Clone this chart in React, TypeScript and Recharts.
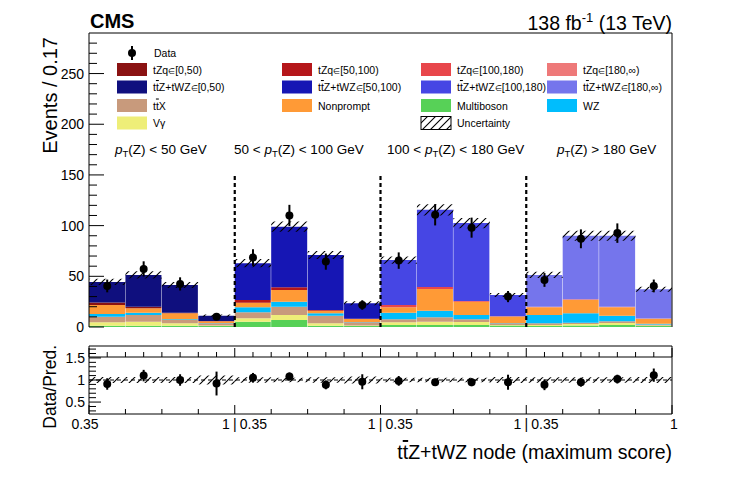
import React from "react";
import {
  ComposedChart,
  Bar,
  XAxis,
  YAxis,
  Scatter,
  ErrorBar,
  ReferenceArea,
  ReferenceLine,
} from "recharts";

// ---------------- data ----------------
const bins = ["1", "2", "3", "4", "5", "6", "7", "8", "9", "10", "11", "12", "13", "14", "15", "16"];
const binRegion = [0, 0, 0, 0, 1, 1, 1, 1, 2, 2, 2, 2, 3, 3, 3, 3];

const multiboson = [1.3, 1.3, 1.3, 1.0, 5.3, 7.0, 1.3, 1.0, 2.0, 2.0, 2.0, 1.5, 1.0, 1.5, 2.0, 1.0];
const vgamma = [3.3, 3.9, 2.3, 0.5, 3.3, 4.8, 2.3, 0.6, 2.6, 3.3, 3.0, 0.5, 1.0, 1.5, 2.0, 0.5];
const ttx = [5.6, 6.6, 3.4, 2.1, 5.9, 8.2, 7.4, 3.0, 3.0, 4.3, 2.6, 1.6, 1.6, 1.3, 1.6, 1.0];
const wz = [2.6, 2.2, 0.6, 0.3, 5.0, 5.0, 2.5, 0.3, 6.4, 6.4, 4.2, 0.4, 8.2, 9.2, 5.4, 0.6];
const nonprompt = [9.0, 4.5, 5.9, 1.7, 4.5, 11.5, 2.5, 3.0, 5.5, 21.5, 13.2, 6.4, 7.7, 13.2, 8.5, 5.0];
const tzq = [2.3, 1.5, 0.5, 0.2, 2.7, 2.7, 0.8, 0.3, 2.2, 2.0, 0.7, 0.3, 0.5, 0.7, 0.5, 0.2];
const ttz = [20.4, 31.4, 27.5, 5.4, 36.3, 59.8, 54.2, 15.2, 44.3, 76.1, 76.8, 20.9, 31.4, 62.6, 70.0, 28.9];
const predUnc = [3.0, 3.5, 3.0, 1.2, 4.0, 5.0, 4.0, 2.0, 3.5, 5.5, 5.0, 2.0, 3.0, 5.0, 5.0, 2.5];

const dataObs = [40.5, 57.3, 42.5, 10.2, 68.5, 110.0, 64.5, 21.7, 65.5, 110.7, 98.0, 30.0, 46.4, 87.0, 92.6, 40.5];
const dataErr = [6.3, 7.5, 6.5, 3.2, 8.2, 10.5, 8.0, 4.7, 8.1, 10.5, 9.9, 5.5, 6.8, 9.3, 9.6, 6.3];

const ratio = [0.91, 1.1, 1.0, 0.92, 1.05, 1.08, 0.89, 0.96, 0.98, 0.95, 0.95, 0.95, 0.89, 0.95, 1.02, 1.11];
const ratioErr = [0.13, 0.13, 0.13, 0.27, 0.11, 0.09, 0.1, 0.17, 0.11, 0.08, 0.09, 0.17, 0.12, 0.1, 0.1, 0.15];
const ratioUnc = [0.07, 0.07, 0.07, 0.1, 0.06, 0.05, 0.06, 0.08, 0.05, 0.05, 0.05, 0.07, 0.06, 0.06, 0.06, 0.07];

const regionRanges = ["[0,50)", "[50,100)", "[100,180)", "[180,\u221e)"];
const regionLabelPre = ["", "50 < ", "100 < ", ""];
const regionLabelPost = [" < 50 GeV", " < 100 GeV", " < 180 GeV", " > 180 GeV"];
const regionEdges = [4, 8, 12];
const regionLineTop = 150;

const mainYTicks = [0, 10, 20, 30, 40, 50, 60, 70, 80, 90, 100, 110, 120, 130, 140, 150, 160, 170, 180, 190, 200, 210, 220, 230, 240, 250, 260, 270, 280];
const ratioYTicks = [0.3, 0.4, 0.5, 0.6, 0.7, 0.8, 0.9, 1.0, 1.1, 1.2, 1.3, 1.4, 1.5, 1.6, 1.7];
const mainXTicks = [0, 0.5, 1, 1.5, 2, 2.5, 3, 3.5, 4, 4.5, 5, 5.5, 6, 6.5, 7, 7.5, 8, 8.5, 9, 9.5, 10, 10.5, 11, 11.5, 12, 12.5, 13, 13.5, 14, 14.5, 15, 15.5, 16];
const ratioXTicks = [0, 1, 2, 3, 4, 5, 6, 7, 8, 9, 10, 11, 12, 13, 14, 15, 16];
const edgeTickPos = [0, 4, 8, 12, 16];
const edgeTickLeft = ["", "1", "1", "1", "1"];
const edgeTickRight = ["0.35", "0.35", "0.35", "0.35", ""];

// ---------------- style ----------------
const FONT = "'Liberation Sans', Arial, Helvetica, sans-serif";
const W = 747;
const H = 488;
const tzqColors = ["#8a1212", "#b5161a", "#e8464b", "#ee7979"];
const ttzColors = ["#0f0f7e", "#1616b4", "#4646e4", "#7575ec"];
const C = {
  mb: "#57d157",
  vg: "#eeee78",
  ttx: "#c89a7c",
  wz: "#00bdfd",
  np: "#ff9a36",
};

const rows = bins.map((b, i) => {
  const r = binRegion[i];
  const row: any = {
    bin: b,
    xc: i + 0.5,
    mb: multiboson[i],
    vg: vgamma[i],
    ttx: ttx[i],
    wz: wz[i],
    np: nonprompt[i],
    obs: dataObs[i],
    obsErr: dataErr[i],
    ratio: ratio[i],
    ratioErr: ratioErr[i],
  };
  for (let k = 0; k < 4; k++) {
    row["tzq" + k] = r === k ? tzq[i] : 0;
    row["ttz" + k] = r === k ? ttz[i] : 0;
  }
  row.total = multiboson[i] + vgamma[i] + ttx[i] + wz[i] + nonprompt[i] + tzq[i] + ttz[i];
  return row;
});

// ---------------- ticks ----------------
const MainYTick = (p: any) => {
  const v = p.payload.value;
  const major = v % 50 === 0;
  return (
    <g>
      <line x1={p.x} x2={p.x + (major ? 15 : 8)} y1={p.y} y2={p.y} stroke="#000" strokeWidth={1} />
      {major && (
        <text x={p.x - 5} y={p.y} dy={5} textAnchor="end" fontSize={14} fontFamily={FONT} fill="#000">
          {v}
        </text>
      )}
    </g>
  );
};

const RatioYTick = (p: any) => {
  const v = p.payload.value;
  const major = Math.abs(v * 2 - Math.round(v * 2)) < 1e-6;
  return (
    <g>
      <line x1={p.x} x2={p.x + (major ? 12 : 7)} y1={p.y} y2={p.y} stroke="#000" strokeWidth={1} />
      {major && (
        <text x={p.x - 4} y={p.y} dy={5} textAnchor="end" fontSize={14} fontFamily={FONT} fill="#000">
          {Number(v.toFixed(1)).toString()}
        </text>
      )}
    </g>
  );
};

const MainXTick = (p: any) => {
  const v = p.payload.value;
  const boundary = v % 4 === 0;
  return <line x1={p.x} x2={p.x} y1={p.y} y2={p.y - (boundary ? 9 : 5)} stroke="#000" strokeWidth={1} />;
};

const RatioXTick = (p: any) => {
  const v = p.payload.value;
  const idx = edgeTickPos.indexOf(v);
  const boundary = idx >= 0;
  const ty = p.y + 15;
  let label: any = null;
  if (boundary) {
    const l = edgeTickLeft[idx];
    const r = edgeTickRight[idx];
    if (l && r) {
      label = (
        <g fontSize={14} fontFamily={FONT} fill="#000">
          <text x={p.x - 5} y={ty} textAnchor="end">{l}</text>
          <text x={p.x} y={ty} textAnchor="middle">|</text>
          <text x={p.x + 5} y={ty} textAnchor="start">{r}</text>
        </g>
      );
    } else if (r) {
      label = (
        <text x={p.x - 4} y={ty} textAnchor="middle" fontSize={14} fontFamily={FONT} fill="#000">{r}</text>
      );
    } else {
      label = (
        <text x={p.x + 2} y={ty} textAnchor="middle" fontSize={14} fontFamily={FONT} fill="#000">{l}</text>
      );
    }
  }
  return (
    <g>
      <line x1={p.x} x2={p.x} y1={p.y} y2={p.y - (boundary ? 9 : 5)} stroke="#000" strokeWidth={1} />
      {label}
    </g>
  );
};

const Dot = (p: any) => <circle cx={p.cx} cy={p.cy} r={4} fill="#000" />;

// ---------------- legend ----------------
const legendColX = [117, 282, 421, 547];
const legendRowY = [69.5, 87, 105.5, 123];

const Elem = () => <tspan fontSize={7.5}>{"\u2208"}</tspan>;
const TTbar = () => (
  <>
    <tspan>t</tspan>
    <tspan style={{ textDecoration: "overline" }}>t</tspan>
  </>
);

function legendEntries() {
  const out: any[] = [];
  for (let k = 0; k < 4; k++) {
    out.push({
      col: k,
      row: 0,
      fill: tzqColors[k],
      label: (
        <>
          <tspan>tZq</tspan>
          <Elem />
          <tspan>{regionRanges[k]}</tspan>
        </>
      ),
    });
    out.push({
      col: k,
      row: 1,
      fill: ttzColors[k],
      label: (
        <>
          <TTbar />
          <tspan>Z+tWZ</tspan>
          <Elem />
          <tspan>{regionRanges[k]}</tspan>
        </>
      ),
    });
  }
  out.push({ col: 0, row: 2, fill: C.ttx, label: (<><TTbar /><tspan>X</tspan></>) });
  out.push({ col: 1, row: 2, fill: C.np, label: <tspan>Nonprompt</tspan> });
  out.push({ col: 2, row: 2, fill: C.mb, label: <tspan>Multiboson</tspan> });
  out.push({ col: 3, row: 2, fill: C.wz, label: <tspan>WZ</tspan> });
  out.push({ col: 0, row: 3, fill: C.vg, label: <tspan>V{"\u03b3"}</tspan> });
  out.push({ col: 2, row: 3, fill: "url(#hatchP)", stroke: "#000", label: <tspan>Uncertainty</tspan> });
  return out;
}

// ---------------- app ----------------
export default function App() {
  const plotLeft = 89;
  const plotRight = 672;
  const mainTop = 33;
  const mainBottom = 327;
  const ratioTop = 346;
  const ratioBottom = 414;
  const regionLabelX = [115, 234, 387, 557];

  return (
    <div style={{ position: "absolute", left: 0, top: 0, width: W, height: H, background: "#fff" }}>
      <svg width={0} height={0} style={{ position: "absolute" }}>
        <defs>
          <pattern id="hatchP" patternUnits="userSpaceOnUse" width={8} height={8}>
            <path d="M0,8 L8,0 M-2,2 L2,-2 M6,10 L10,6" stroke="#000" strokeWidth={1.1} />
          </pattern>
        </defs>
      </svg>

      {/* main panel */}
      <div style={{ position: "absolute", left: 0, top: 0 }}>
        <ComposedChart
          width={W}
          height={H}
          data={rows}
          margin={{ top: mainTop - 1, right: W - plotRight - 1, bottom: H - mainBottom - 1, left: plotLeft - 40 }}
          barCategoryGap={0}
          barGap={0}
        >
          <XAxis xAxisId="c" dataKey="bin" type="category" hide />
          <XAxis
            xAxisId="e"
            dataKey="xc"
            type="number"
            domain={[0, 16]}
            ticks={mainXTicks}
            interval={0}
            allowDataOverflow
            height={1}
            tickSize={0}
            tickMargin={0}
            tickLine={false}
            axisLine={{ stroke: "#000" }}
            tick={(p: any) => <MainXTick {...p} />}
          />
          <XAxis
            xAxisId="t"
            dataKey="xc"
            orientation="top"
            type="number"
            domain={[0, 16]}
            allowDataOverflow
            height={1}
            tick={false}
            tickLine={false}
            axisLine={{ stroke: "#000" }}
          />
          <YAxis
            type="number"
            domain={[0, 290]}
            ticks={mainYTicks}
            interval={0}
            allowDataOverflow
            width={40}
            tickSize={0}
            tickMargin={0}
            tickLine={false}
            axisLine={{ stroke: "#000" }}
            tick={(p: any) => <MainYTick {...p} />}
          />
          <YAxis
            yAxisId="r"
            orientation="right"
            type="number"
            domain={[0, 290]}
            width={1}
            tick={false}
            tickLine={false}
            axisLine={{ stroke: "#000" }}
          />
          <Bar xAxisId="c" dataKey="mb" stackId="s" fill={C.mb} isAnimationActive={false} />
          <Bar xAxisId="c" dataKey="vg" stackId="s" fill={C.vg} isAnimationActive={false} />
          <Bar xAxisId="c" dataKey="ttx" stackId="s" fill={C.ttx} isAnimationActive={false} />
          <Bar xAxisId="c" dataKey="wz" stackId="s" fill={C.wz} isAnimationActive={false} />
          <Bar xAxisId="c" dataKey="np" stackId="s" fill={C.np} isAnimationActive={false} />
          {tzqColors.map((c, k) => (
            <Bar key={"tzq" + k} xAxisId="c" dataKey={"tzq" + k} stackId="s" fill={c} isAnimationActive={false} />
          ))}
          {ttzColors.map((c, k) => (
            <Bar key={"ttz" + k} xAxisId="c" dataKey={"ttz" + k} stackId="s" fill={c} isAnimationActive={false} />
          ))}
          {rows.map((r, i) => (
            <ReferenceArea
              key={"u" + i}
              xAxisId="e"
              x1={i}
              x2={i + 1}
              y1={r.total - predUnc[i]}
              y2={r.total + predUnc[i]}
              fill="url(#hatchP)"
              fillOpacity={1}
              stroke="none"
              ifOverflow="visible"
              zIndex={450}
            />
          ))}
          {regionEdges.map((e) => (
            <ReferenceLine
              key={"rl" + e}
              xAxisId="e"
              segment={[
                { x: e, y: 0 },
                { x: e, y: regionLineTop },
              ]}
              stroke="#000"
              strokeWidth={2.2}
              strokeDasharray="4 3"
              zIndex={450}
            />
          ))}
          <Scatter xAxisId="e" dataKey="obs" shape={Dot} isAnimationActive={false}>
            <ErrorBar dataKey="obsErr" direction="y" width={0} stroke="#000" strokeWidth={2} />
          </Scatter>
        </ComposedChart>
      </div>

      {/* ratio panel */}
      <div style={{ position: "absolute", left: 0, top: 0 }}>
        <ComposedChart
          width={W}
          height={H}
          data={rows}
          margin={{ top: ratioTop - 1, right: W - plotRight - 1, bottom: H - ratioBottom - 1, left: plotLeft - 40 }}
        >
          <XAxis
            xAxisId="e"
            dataKey="xc"
            type="number"
            domain={[0, 16]}
            ticks={ratioXTicks}
            interval={0}
            allowDataOverflow
            height={1}
            tickSize={0}
            tickMargin={0}
            tickLine={false}
            axisLine={{ stroke: "#000" }}
            tick={(p: any) => <RatioXTick {...p} />}
          />
          <XAxis
            xAxisId="t"
            dataKey="xc"
            orientation="top"
            type="number"
            domain={[0, 16]}
            allowDataOverflow
            height={1}
            tick={false}
            tickLine={false}
            axisLine={{ stroke: "#000" }}
          />
          <YAxis
            type="number"
            domain={[0.23, 1.77]}
            ticks={ratioYTicks}
            interval={0}
            allowDataOverflow
            width={40}
            tickSize={0}
            tickMargin={0}
            tickLine={false}
            axisLine={{ stroke: "#000" }}
            tick={(p: any) => <RatioYTick {...p} />}
          />
          <YAxis
            yAxisId="r"
            orientation="right"
            type="number"
            domain={[0.23, 1.77]}
            width={1}
            tick={false}
            tickLine={false}
            axisLine={{ stroke: "#000" }}
          />
          {rows.map((r, i) => (
            <ReferenceArea
              key={"ru" + i}
              xAxisId="e"
              x1={i}
              x2={i + 1}
              y1={1 - ratioUnc[i]}
              y2={1 + ratioUnc[i]}
              fill="url(#hatchP)"
              fillOpacity={1}
              stroke="none"
              ifOverflow="visible"
            />
          ))}
          <ReferenceLine xAxisId="e" y={1} stroke="#000" strokeWidth={1} strokeDasharray="4 3" />
          <Scatter xAxisId="e" dataKey="ratio" shape={Dot} isAnimationActive={false}>
            <ErrorBar dataKey="ratioErr" direction="y" width={0} stroke="#000" strokeWidth={2} />
          </Scatter>
        </ComposedChart>
      </div>

      {/* texts and legend */}
      <svg
        width={W}
        height={H}
        style={{ position: "absolute", left: 0, top: 0, pointerEvents: "none" }}
        fontFamily={FONT}
      >
        <text x={90} y={28} fontSize={20} fontWeight="bold" fill="#000">CMS</text>
        <text x={672} y={30} fontSize={19.5} textAnchor="end" fill="#000">
          <tspan>138 fb</tspan>
          <tspan fontSize={13} dy={-8}>-1</tspan>
          <tspan dy={8}> (13 TeV)</tspan>
        </text>

        {/* legend */}
        <line x1={132} x2={132} y1={46} y2={60} stroke="#000" strokeWidth={2} />
        <circle cx={132} cy={53} r={4} fill="#000" />
        <text x={154} y={57} fontSize={10.5} fill="#000">Data</text>
        {legendEntries().map((e, i) => (
          <g key={"lg" + i}>
            <rect
              x={legendColX[e.col]}
              y={legendRowY[e.row] - 6.5}
              width={30}
              height={13}
              fill={e.fill}
              stroke={e.stroke || "none"}
              strokeWidth={1}
            />
            <text x={legendColX[e.col] + 36} y={legendRowY[e.row] + 4} fontSize={10.5} fill="#000">
              {e.label}
            </text>
          </g>
        ))}

        {/* region labels */}
        {regionLabelX.map((x, k) => (
          <text key={"rg" + k} x={x} y={154} fontSize={13.5} fill="#000">
            <tspan>{regionLabelPre[k]}</tspan>
            <tspan fontStyle="italic">p</tspan>
            <tspan fontSize={9.5} dy={3}>T</tspan>
            <tspan dy={-3}>(Z){regionLabelPost[k]}</tspan>
          </text>
        ))}

        {/* axis titles */}
        <text x={57} y={37} fontSize={20} textAnchor="end" transform="rotate(-90 57 37)" fill="#000">
          Events / 0.17
        </text>
        <text x={56} y={345} fontSize={17.5} textAnchor="end" transform="rotate(-90 56 345)" fill="#000">
          Data/Pred.
        </text>
        <text x={672} y={459} fontSize={19.5} textAnchor="end" fill="#000">
          <TTbar />
          <tspan>Z+tWZ node (maximum score)</tspan>
        </text>
      </svg>
    </div>
  );
}
